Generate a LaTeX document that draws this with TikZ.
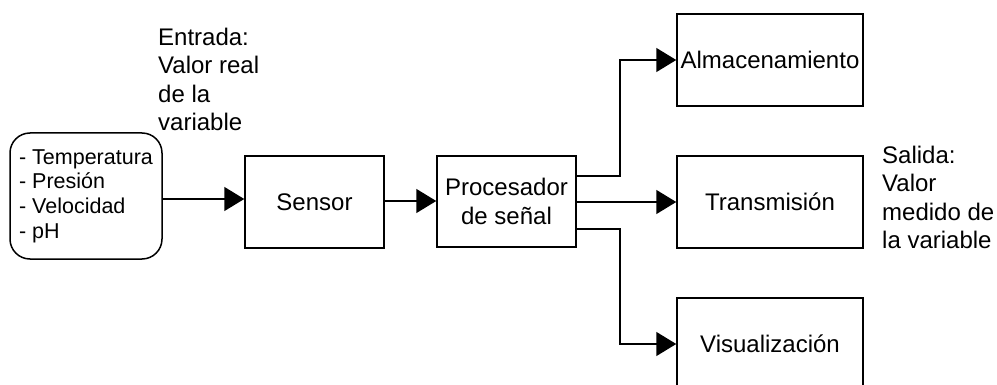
\documentclass[tikz,border=0pt]{standalone}
\usepackage{fontspec}
\setmainfont{Liberation Sans}
\usetikzlibrary{arrows.meta}
\begin{document}
\begin{tikzpicture}[x=1pt,y=-1pt,
  blk/.style={draw, line width=1.5pt, inner sep=0pt, align=center, minimum width=186pt, minimum height=92pt, font=\fontsize{24}{29}\selectfont},
  lbl/.style={inner sep=0pt, align=left, font=\fontsize{24}{28.5}\selectfont},
  arr/.style={line width=1.5pt, -{Triangle[length=20pt,width=24pt]}}]
\useasboundingbox (0,0) rectangle (997,385);
\clip (0,0) rectangle (997,385);
\node[blk, rounded corners=20pt, minimum width=152pt, minimum height=126pt, align=left, font=\fontsize{21.5}{24.7}\selectfont] (src) at (86,196) {- Temperatura\\- Presión\\- Velocidad\\- pH};
\node[blk, minimum width=139pt] (sensor) at (314.5,202) {Sensor};
\node[blk, minimum width=139pt, minimum height=91pt] (proc) at (506.5,201.5) {Procesador\\de señal};
\node[blk] (alm) at (770,60) {Almacenamiento};
\node[blk] (trans) at (770,202) {Transmisión};
\node[blk] (vis) at (770,344) {Visualización};
\node[lbl, anchor=north west] (entrada) at (158,27.5) {Entrada:\\Valor real\\de la\\variable};
\node[lbl, anchor=north west] (salida) at (882,145.5) {Salida:\\Valor\\medido de\\la variable};
\draw[arr] ([yshift=-3pt]src.east) -- ([yshift=-3pt]src.east -| sensor.west);
\draw[arr] ([yshift=1pt]sensor.east) -- ([yshift=1pt]sensor.east -| proc.west);
\draw[arr] ([yshift=25.5pt]proc.east) -- ++(43,0) |- (alm.west);
\draw[arr] (proc.east |- trans.west) -- (trans.west);
\draw[arr] ([yshift=-27.5pt]proc.east) -- ++(43,0) |- (vis.west);
\end{tikzpicture}
\end{document}
